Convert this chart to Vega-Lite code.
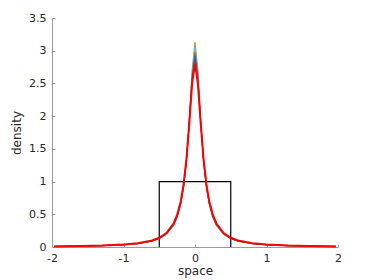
{
  "$schema": "https://vega.github.io/schema/vega-lite/v6.json",
  "width": 286,
  "height": 229,
  "autosize": {"type": "none"},
  "padding": {"left": 52, "top": 18, "right": 36, "bottom": 33},
  "background": "white",
  "config": {
    "view": {"stroke": null},
    "font": "DejaVu Sans",
    "axis": {
      "domainColor": "#9a9a9a",
      "tickColor": "#9a9a9a",
      "tickSize": -3,
      "labelColor": "#262626",
      "titleColor": "#262626",
      "labelFontSize": 11,
      "titleFontSize": 12,
      "titleFontWeight": "normal",
      "grid": false,
      "labelFlush": false,
      "labelOverlap": false,
      "labelFont": "DejaVu Sans",
      "titleFont": "DejaVu Sans"
    }
  },
  "datasets": {
    "curves": [
      {"x": -1.97, "r": 0.0095, "c1": 0.0083, "c2": 0.0085, "c3": 0.0087, "c4": 0.0089, "c5": 0.0091},
      {"x": -1.6, "r": 0.0144, "c1": 0.0126, "c2": 0.0129, "c3": 0.0132, "c4": 0.0135, "c5": 0.0137},
      {"x": -1.3, "r": 0.0217, "c1": 0.019, "c2": 0.0195, "c3": 0.02, "c4": 0.0204, "c5": 0.0207},
      {"x": -1.0, "r": 0.037, "c1": 0.032, "c2": 0.0329, "c3": 0.0336, "c4": 0.0343, "c5": 0.0349},
      {"x": -0.8, "r": 0.057, "c1": 0.0498, "c2": 0.051, "c3": 0.0522, "c4": 0.0532, "c5": 0.0541},
      {"x": -0.6, "r": 0.099, "c1": 0.0874, "c2": 0.0896, "c3": 0.0916, "c4": 0.0933, "c5": 0.0948},
      {"x": -0.5, "r": 0.141, "c1": 0.124, "c2": 0.127, "c3": 0.13, "c4": 0.1325, "c5": 0.1346},
      {"x": -0.4, "r": 0.214, "c1": 0.19, "c2": 0.194, "c3": 0.198, "c4": 0.202, "c5": 0.205},
      {"x": -0.3, "r": 0.359, "c1": 0.323, "c2": 0.329, "c3": 0.335, "c4": 0.341, "c5": 0.345},
      {"x": -0.25, "r": 0.489, "c1": 0.444, "c2": 0.453, "c3": 0.46, "c4": 0.467, "c5": 0.472},
      {"x": -0.2, "r": 0.696, "c1": 0.643, "c2": 0.653, "c3": 0.661, "c4": 0.669, "c5": 0.675},
      {"x": -0.16, "r": 0.954, "c1": 0.901, "c2": 0.91, "c3": 0.919, "c4": 0.926, "c5": 0.931},
      {"x": -0.12, "r": 1.34, "c1": 1.308, "c2": 1.314, "c3": 1.317, "c4": 1.32, "c5": 1.322},
      {"x": -0.08, "r": 1.89, "c1": 1.934, "c2": 1.921, "c3": 1.909, "c4": 1.898, "c5": 1.888},
      {"x": -0.04, "r": 2.5, "c1": 2.711, "c2": 2.659, "c3": 2.613, "c4": 2.574, "c5": 2.54},
      {"x": 0, "r": 2.8, "c1": 3.13, "c2": 3.05, "c3": 2.98, "c4": 2.92, "c5": 2.87},
      {"x": 0.04, "r": 2.5, "c1": 2.711, "c2": 2.659, "c3": 2.613, "c4": 2.574, "c5": 2.54},
      {"x": 0.08, "r": 1.89, "c1": 1.934, "c2": 1.921, "c3": 1.909, "c4": 1.898, "c5": 1.888},
      {"x": 0.12, "r": 1.34, "c1": 1.308, "c2": 1.314, "c3": 1.317, "c4": 1.32, "c5": 1.322},
      {"x": 0.16, "r": 0.954, "c1": 0.901, "c2": 0.91, "c3": 0.919, "c4": 0.926, "c5": 0.931},
      {"x": 0.2, "r": 0.696, "c1": 0.643, "c2": 0.653, "c3": 0.661, "c4": 0.669, "c5": 0.675},
      {"x": 0.25, "r": 0.489, "c1": 0.444, "c2": 0.453, "c3": 0.46, "c4": 0.467, "c5": 0.472},
      {"x": 0.3, "r": 0.359, "c1": 0.323, "c2": 0.329, "c3": 0.335, "c4": 0.341, "c5": 0.345},
      {"x": 0.4, "r": 0.214, "c1": 0.19, "c2": 0.194, "c3": 0.198, "c4": 0.202, "c5": 0.205},
      {"x": 0.5, "r": 0.141, "c1": 0.124, "c2": 0.127, "c3": 0.13, "c4": 0.1325, "c5": 0.1346},
      {"x": 0.6, "r": 0.099, "c1": 0.0874, "c2": 0.0896, "c3": 0.0916, "c4": 0.0933, "c5": 0.0948},
      {"x": 0.8, "r": 0.057, "c1": 0.0498, "c2": 0.051, "c3": 0.0522, "c4": 0.0532, "c5": 0.0541},
      {"x": 1.0, "r": 0.037, "c1": 0.032, "c2": 0.0329, "c3": 0.0336, "c4": 0.0343, "c5": 0.0349},
      {"x": 1.3, "r": 0.0217, "c1": 0.019, "c2": 0.0195, "c3": 0.02, "c4": 0.0204, "c5": 0.0207},
      {"x": 1.6, "r": 0.0144, "c1": 0.0126, "c2": 0.0129, "c3": 0.0132, "c4": 0.0135, "c5": 0.0137},
      {"x": 1.97, "r": 0.0095, "c1": 0.0083, "c2": 0.0085, "c3": 0.0087, "c4": 0.0089, "c5": 0.0091}
    ],
    "box": [
      {"order": 1, "x": -0.5, "y": 0},
      {"order": 2, "x": -0.5, "y": 1},
      {"order": 3, "x": 0.5, "y": 1},
      {"order": 4, "x": 0.5, "y": 0}
    ]
  },
  "encoding": {
    "x": {"field": "x", "type": "quantitative", "scale": {"domain": [-2, 2], "nice": false, "zero": false},
      "axis": {"values": [-2, -1, 0, 1, 2], "labelExpr": "'' + datum.value", "title": "space", "titlePadding": 2, "labelPadding": 8, "labelOverlap": false}},
    "y": {"field": "y", "type": "quantitative", "scale": {"domain": [0, 3.5], "nice": false},
      "axis": {"values": [0, 0.5, 1, 1.5, 2, 2.5, 3, 3.5], "format": "~g", "title": "density", "titlePadding": 5, "labelPadding": 9, "labelOverlap": false, "labelBound": false}}
  },
  "layer": [
    {
      "data": {"name": "box"},
      "mark": {"type": "line", "color": "black", "strokeWidth": 1.2},
      "encoding": {
        "order": {"field": "order", "type": "quantitative"}
      }
    },
    {
      "data": {"name": "curves"},
      "transform": [{"fold": ["c1", "c2", "c3", "c4", "c5"], "as": ["run", "y"]}],
      "mark": {"type": "line", "strokeWidth": 1},
      "encoding": {
        "color": {"field": "run", "type": "nominal", "legend": null,
          "scale": {"domain": ["c1", "c2", "c3", "c4", "c5"], "range": ["#77AC30", "#4DBEEE", "#D95319", "#0072BD", "#7E2F8E"]}}
      }
    },
    {
      "data": {"name": "curves"},
      "transform": [{"fold": ["r"], "as": ["run", "y"]}],
      "mark": {"type": "line", "color": "#ff0000", "strokeWidth": 2},
      "encoding": {}
    }
  ]
}
